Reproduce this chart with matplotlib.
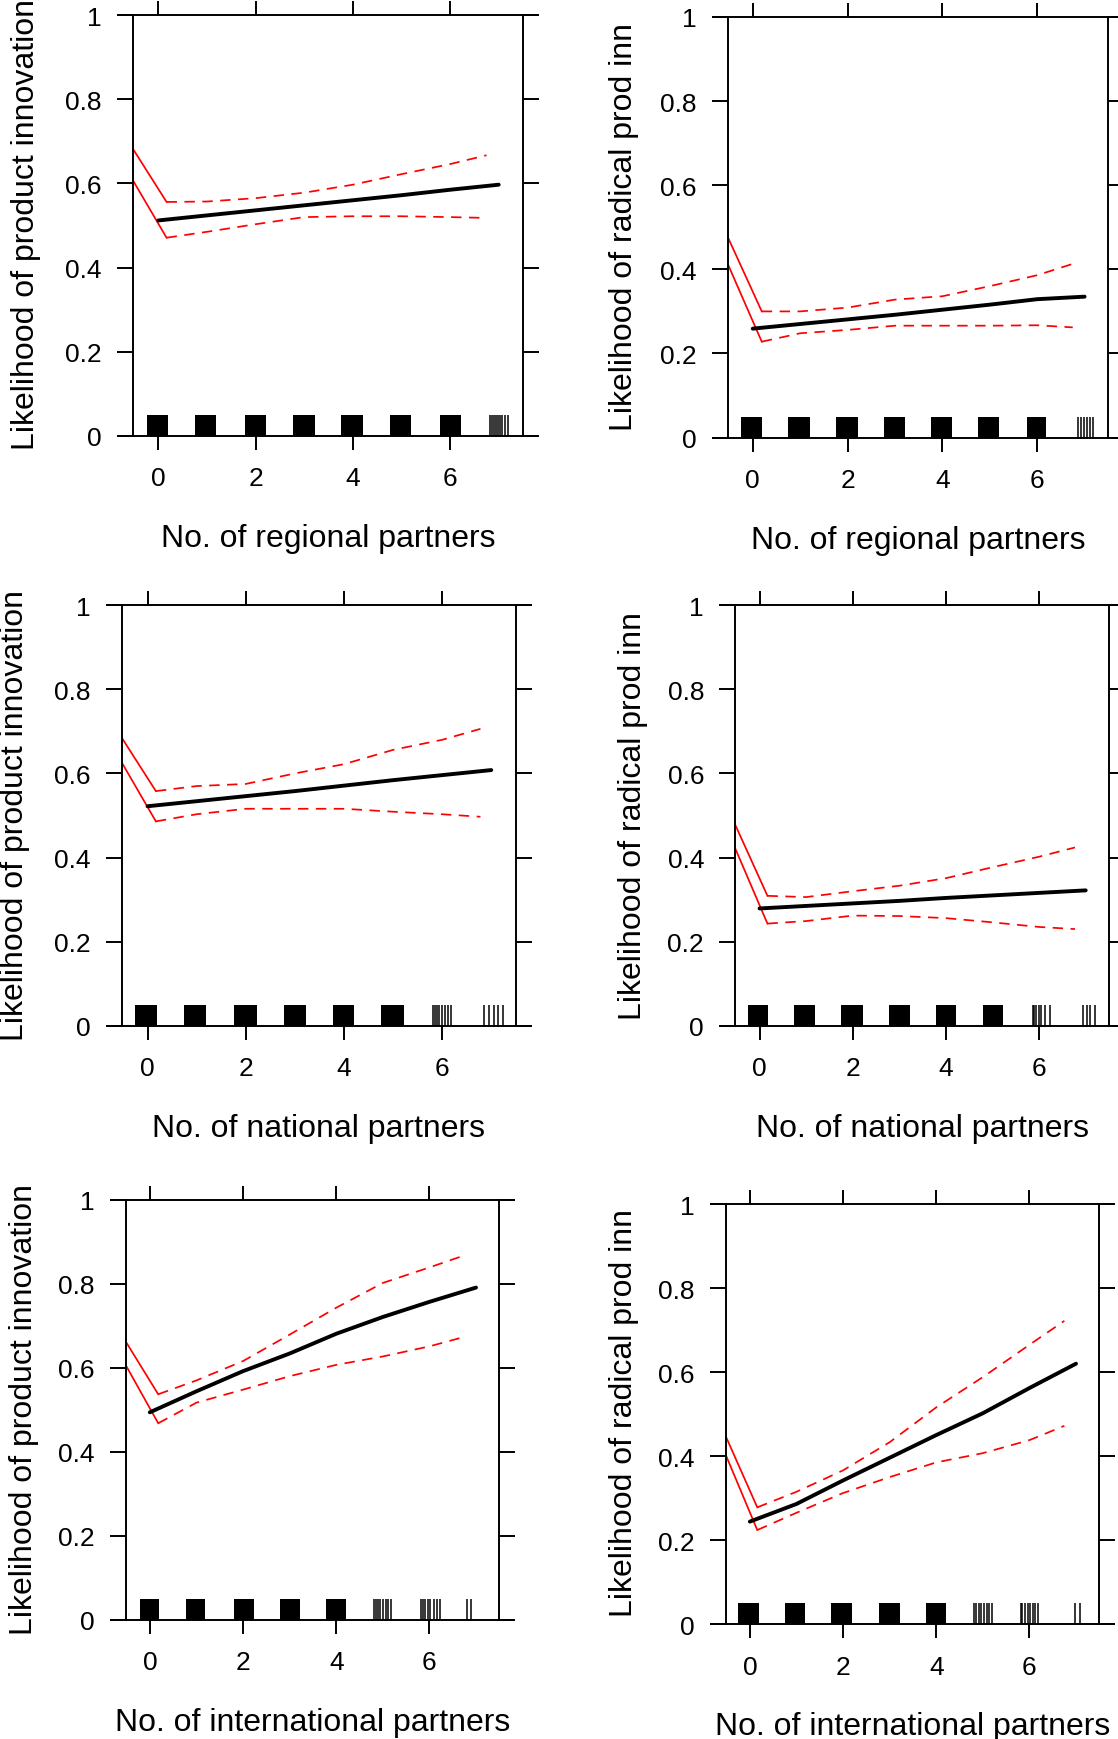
import matplotlib
matplotlib.use("Agg")
import matplotlib.pyplot as plt

plt.rcParams['font.family'] = ['Liberation Sans', 'DejaVu Sans']

# ---------------- data ----------------
mean_x = [0, 1, 2, 3, 4, 5, 6, 7]
x_ticks = [0, 2, 4, 6]
y_ticks = [0, 0.2, 0.4, 0.6, 0.8, 1]
y_tick_labels = ['0', '0.2', '0.4', '0.6', '0.8', '1']
rug_height = 0.05

ylab_prod = "Likelihood of product innovation"
ylab_rad = "Likelihood of radical prod inn"
xlab_reg = "No. of regional partners"
xlab_nat = "No. of national partners"
xlab_int = "No. of international partners"

# Panel 1: regional partners -> product innovation
reg_prod_mean = [0.512, 0.524, 0.536, 0.548, 0.560, 0.572, 0.585, 0.597]
reg_prod_ci_x = [-0.52, 0.17, 1.0, 2.0, 3.0, 4.0, 5.0, 6.0, 6.75]
reg_prod_upper = [0.682, 0.556, 0.557, 0.565, 0.578, 0.597, 0.622, 0.646, 0.667]
reg_prod_lower = [0.607, 0.471, 0.485, 0.503, 0.520, 0.522, 0.522, 0.520, 0.518]
reg_prod_rug_blocks = [(-0.24, 0.20), (0.75, 1.19), (1.78, 2.22), (2.77, 3.22),
                       (3.76, 4.21), (4.77, 5.20), (5.80, 6.23)]
reg_prod_rug_lines = [6.82, 6.86, 6.90, 6.94, 6.98, 7.02, 7.06, 7.12, 7.20]

# Panel 2: regional partners -> radical product innovation
reg_rad_mean = [0.259, 0.270, 0.281, 0.292, 0.304, 0.316, 0.329, 0.335]
reg_rad_ci_x = [-0.52, 0.19, 1.0, 2.0, 3.0, 4.0, 5.0, 6.0, 6.75]
reg_rad_upper = [0.475, 0.300, 0.300, 0.309, 0.328, 0.336, 0.360, 0.386, 0.413]
reg_rad_lower = [0.411, 0.228, 0.248, 0.256, 0.266, 0.266, 0.266, 0.267, 0.262]
reg_rad_rug_blocks = [(-0.24, 0.20), (0.75, 1.20), (1.75, 2.22), (2.77, 3.22),
                      (3.77, 4.21), (4.76, 5.19), (5.79, 6.19)]
reg_rad_rug_lines = [6.87, 6.92, 6.99, 7.05, 7.12, 7.18]

# Panel 3: national partners -> product innovation
nat_prod_mean = [0.522, 0.534, 0.546, 0.558, 0.571, 0.584, 0.596, 0.608]
nat_prod_ci_x = [-0.52, 0.17, 1.0, 2.0, 3.0, 4.0, 5.0, 6.0, 6.78]
nat_prod_upper = [0.684, 0.558, 0.570, 0.575, 0.600, 0.622, 0.656, 0.680, 0.706]
nat_prod_lower = [0.625, 0.486, 0.503, 0.516, 0.516, 0.516, 0.509, 0.503, 0.497]
nat_prod_rug_blocks = [(-0.25, 0.20), (0.75, 1.19), (1.76, 2.22), (2.78, 3.22),
                       (3.77, 4.21), (4.76, 5.22)]
nat_prod_rug_lines = [5.81, 5.85, 5.89, 5.93, 6.00, 6.05, 6.11, 6.19,
                      6.85, 6.95, 7.05, 7.14, 7.23]

# Panel 4: national partners -> radical product innovation
nat_rad_mean = [0.279, 0.285, 0.291, 0.297, 0.304, 0.310, 0.316, 0.322]
nat_rad_ci_x = [-0.53, 0.17, 1.0, 2.0, 3.0, 4.0, 5.0, 6.0, 6.77]
nat_rad_upper = [0.480, 0.309, 0.306, 0.320, 0.333, 0.351, 0.377, 0.402, 0.424]
nat_rad_lower = [0.424, 0.243, 0.249, 0.262, 0.261, 0.256, 0.246, 0.235, 0.230]
nat_rad_rug_blocks = [(-0.25, 0.19), (0.75, 1.19), (1.75, 2.22), (2.77, 3.22),
                      (3.78, 4.21), (4.79, 5.23)]
nat_rad_rug_lines = [5.86, 5.90, 5.94, 5.99, 6.05, 6.12, 6.23,
                     6.94, 7.02, 7.10, 7.20]

# Panel 5: international partners -> product innovation
int_prod_mean = [0.494, 0.544, 0.592, 0.634, 0.681, 0.721, 0.757, 0.791]
int_prod_ci_x = [-0.52, 0.18, 1.0, 2.0, 3.0, 4.0, 5.0, 6.0, 6.76]
int_prod_upper = [0.663, 0.537, 0.570, 0.616, 0.679, 0.743, 0.802, 0.839, 0.868]
int_prod_lower = [0.607, 0.468, 0.517, 0.548, 0.580, 0.607, 0.627, 0.651, 0.674]
int_prod_rug_blocks = [(-0.22, 0.20), (0.77, 1.19), (1.81, 2.23), (2.79, 3.22),
                       (3.78, 4.21)]
int_prod_rug_lines = [4.82, 4.86, 4.90, 4.95, 5.00, 5.06, 5.12, 5.18,
                      5.82, 5.86, 5.90, 5.96, 6.02, 6.10, 6.16, 6.22,
                      6.80, 6.89]

# Panel 6: international partners -> radical product innovation
int_rad_mean = [0.244, 0.286, 0.342, 0.396, 0.450, 0.502, 0.562, 0.620]
int_rad_ci_x = [-0.54, 0.16, 1.0, 2.0, 3.0, 4.0, 5.0, 6.0, 6.75]
int_rad_upper = [0.453, 0.278, 0.315, 0.366, 0.433, 0.516, 0.588, 0.665, 0.722]
int_rad_lower = [0.409, 0.224, 0.265, 0.312, 0.350, 0.385, 0.407, 0.438, 0.472]
int_rad_rug_blocks = [(-0.25, 0.19), (0.75, 1.18), (1.75, 2.20), (2.78, 3.22),
                      (3.79, 4.21)]
int_rad_rug_lines = [4.82, 4.86, 4.91, 4.96, 5.02, 5.08, 5.14, 5.20,
                     5.81, 5.85, 5.90, 5.96, 6.02, 6.08, 6.13, 6.19,
                     6.98, 7.08]

panels_data = [
    (reg_prod_mean, reg_prod_ci_x, reg_prod_upper, reg_prod_lower,
     reg_prod_rug_blocks, reg_prod_rug_lines, ylab_prod, xlab_reg),
    (reg_rad_mean, reg_rad_ci_x, reg_rad_upper, reg_rad_lower,
     reg_rad_rug_blocks, reg_rad_rug_lines, ylab_rad, xlab_reg),
    (nat_prod_mean, nat_prod_ci_x, nat_prod_upper, nat_prod_lower,
     nat_prod_rug_blocks, nat_prod_rug_lines, ylab_prod, xlab_nat),
    (nat_rad_mean, nat_rad_ci_x, nat_rad_upper, nat_rad_lower,
     nat_rad_rug_blocks, nat_rad_rug_lines, ylab_rad, xlab_nat),
    (int_prod_mean, int_prod_ci_x, int_prod_upper, int_prod_lower,
     int_prod_rug_blocks, int_prod_rug_lines, ylab_prod, xlab_int),
    (int_rad_mean, int_rad_ci_x, int_rad_upper, int_rad_lower,
     int_rad_rug_blocks, int_rad_rug_lines, ylab_rad, xlab_int),
]

# ---------------- layout (pixels) ----------------
W, H = 1118, 1740
layout = [
    dict(box=(133.0, 16.2, 523.0, 436.8), ylab=(34.0, 225.0)),
    dict(box=(728.1, 17.9, 1108.3, 438.6), ylab=(631.6, 227.0)),
    dict(box=(122.0, 606.2, 515.8, 1026.8), ylab=(23.3, 815.5)),
    dict(box=(735.3, 606.2, 1109.0, 1026.8), ylab=(641.3, 816.0)),
    dict(box=(125.6, 1200.8, 499.3, 1620.8), ylab=(32.3, 1410.0)),
    dict(box=(725.6, 1205.1, 1099.3, 1625.1), ylab=(631.6, 1413.0)),
]

XLIM = (-0.52, 7.5)
LW_AX = 1.4
TICK_FS = 19
LABEL_FS = 23
RED_LW = 1.25

fig = plt.figure(figsize=(W / 100, H / 100), dpi=100)
fig.patch.set_facecolor('white')

for (mean, ci_x, upper, lower, blocks, lines, ylab, xlab), lay in zip(panels_data, layout):
    l, t, r, b = lay['box']
    ax = fig.add_axes([l / W, 1 - b / H, (r - l) / W, (b - t) / H])
    ax.set_xlim(*XLIM)
    ax.set_ylim(0, 1)
    ax.set_facecolor('none')
    for s in ('top', 'bottom'):
        ax.spines[s].set_visible(False)
    for s in ('left', 'right'):
        ax.spines[s].set_linewidth(LW_AX)

    # horizontal frame lines at y=0 and y=1, extending over the tick length
    ext = 16.0 / (r - l)
    for yy in (0, 1):
        ax.plot([-ext, 1 + ext], [yy, yy], transform=ax.transAxes,
                color='black', lw=LW_AX, clip_on=False, solid_capstyle='butt')

    # rug
    ax.bar([s for s, e in blocks], rug_height, width=[e - s for s, e in blocks],
           align='edge', color='black', linewidth=0)
    ax.vlines(lines, 0, rug_height, color='black', lw=1.1)

    # confidence limits
    ax.plot(ci_x[:2], upper[:2], color='red', lw=RED_LW)
    ax.plot(ci_x[:2], lower[:2], color='red', lw=RED_LW)
    ax.plot(ci_x[1:], upper[1:], color='red', lw=RED_LW, dashes=(6, 4.3))
    ax.plot(ci_x[1:], lower[1:], color='red', lw=RED_LW, dashes=(6, 4.3))

    # fitted effect
    ax.plot(mean_x, mean, color='black', lw=2.8, solid_capstyle='round')

    ax.set_xticks(x_ticks)
    ax.set_xticklabels([str(v) for v in x_ticks])
    ax.set_yticks(y_ticks)
    ax.set_yticklabels(y_tick_labels)
    ax.tick_params(axis='y', left=True, right=True, direction='out',
                   length=11.5, width=LW_AX, labelsize=TICK_FS, pad=11.0)
    ax.tick_params(axis='x', bottom=True, top=True, direction='out',
                   length=10.0, width=LW_AX, labelsize=TICK_FS, pad=12.0)

    # x label
    fig.text((l + r) / 2 / W, 1 - (b + 110) / H, xlab, ha='center',
             va='baseline', fontsize=LABEL_FS)
    # y label
    yx, yy = lay['ylab']
    fig.text(yx / W, 1 - yy / H, ylab, rotation=90, rotation_mode='anchor',
             ha='center', va='baseline', fontsize=LABEL_FS)

fig.savefig('out.png', dpi=100, facecolor='white')
